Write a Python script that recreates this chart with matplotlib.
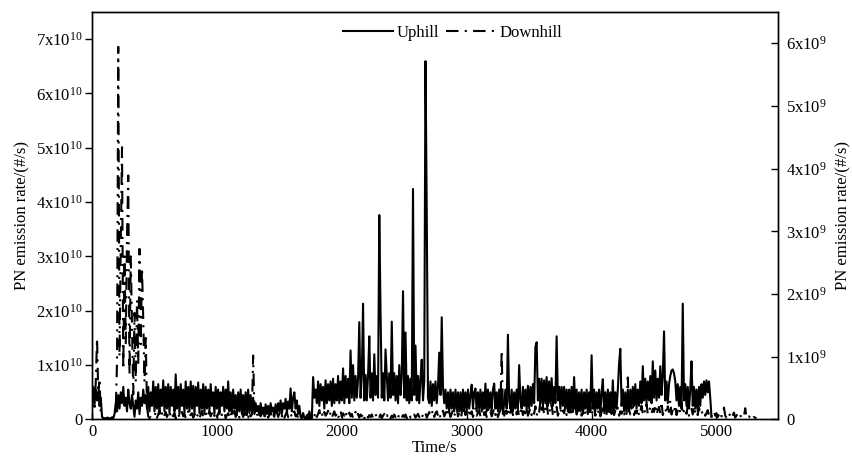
import numpy as np
import matplotlib
matplotlib.use("Agg")
import matplotlib.pyplot as plt
from matplotlib.ticker import FuncFormatter

plt.rcParams['font.family'] = ['Liberation Serif', 'DejaVu Serif']
plt.rcParams['mathtext.fontset'] = 'custom'
plt.rcParams['mathtext.rm'] = 'Liberation Serif'
plt.rcParams['mathtext.it'] = 'Liberation Serif:italic'

# Time step of the sampled series (s)
step_s = 10

# Uphill PN emission rate, units of 1e10 #/s (left axis), t = 0, 10, 20, ...
uphill_1e10 = [
    0.45, 0.6, 0.3, 0.55, 0.35, 0.5, 0.25, 0.4, 0.05, 0.02,
    0.01, 0.02, 0.01, 0.03, 0.01, 0.02, 0.04, 0.02, 0.1, 0.3,
    0.15, 0.45, 0.2, 0.5, 0.3, 0.6, 0.25, 0.4, 0.15, 0.55,
    0.3, 0.2, 0.45, 0.25, 0.05, 0.35, 0.2, 0.5, 0.1, 0.4,
    0.25, 0.55, 0.3, 0.45, 0.2, 0.6, 0.15, 0.5, 0.25, 0.7,
    0.15, 0.6, 0.2, 0.65, 0.1, 0.55, 0.25, 0.72, 0.15, 0.6,
    0.2, 0.65, 0.12, 0.6, 0.25, 0.55, 0.15, 0.83, 0.2, 0.6,
    0.1, 0.65, 0.25, 0.55, 0.12, 0.7, 0.2, 0.6, 0.15, 0.7,
    0.2, 0.62, 0.1, 0.6, 0.25, 0.68, 0.12, 0.55, 0.2, 0.65,
    0.1, 0.6, 0.2, 0.55, 0.15, 0.65, 0.25, 0.5, 0.1, 0.6,
    0.2, 0.55, 0.1, 0.5, 0.25, 0.6, 0.15, 0.55, 0.2, 0.7,
    0.15, 0.5, 0.1, 0.55, 0.2, 0.45, 0.08, 0.5, 0.15, 0.55,
    0.1, 0.45, 0.15, 0.5, 0.08, 0.55, 0.12, 0.45, 0.15, 0.4,
    0.1, 0.3, 0.15, 0.25, 0.08, 0.3, 0.12, 0.22, 0.06, 0.28,
    0.1, 0.25, 0.08, 0.3, 0.15, 0.22, 0.05, 0.28, 0.12, 0.3,
    0.15, 0.35, 0.1, 0.3, 0.2, 0.38, 0.12, 0.33, 0.2, 0.57,
    0.15, 0.4, 0.5, 0.2, 0.35, 0.1, 0.25, 0.05, 0.02, 0.12,
    0.03, 0.01, 0.08, 0.02, 0.15, 0.03, 0.01, 0.78, 0.4, 0.55,
    0.3, 0.7, 0.25, 0.65, 0.35, 0.6, 0.2, 0.72, 0.3, 0.65,
    0.35, 0.7, 0.25, 0.75, 0.3, 0.65, 0.35, 0.8, 0.3, 0.7,
    0.35, 0.94, 0.3, 0.8, 0.4, 0.75, 0.3, 1.27, 0.4, 1.0,
    0.35, 0.8, 0.4, 0.75, 1.79, 0.4, 0.8, 2.13, 0.35, 0.82,
    0.35, 0.8, 1.53, 0.4, 0.85, 0.35, 1.2, 0.45, 0.8, 0.4,
    3.76, 2.0, 0.4, 0.85, 0.35, 1.29, 0.8, 0.35, 0.85, 0.4,
    1.8, 0.45, 0.85, 0.35, 0.8, 0.3, 1.0, 0.45, 0.8, 2.36,
    0.4, 1.6, 0.35, 0.8, 0.3, 0.75, 0.35, 4.24, 0.45, 1.36,
    0.35, 0.8, 0.3, 0.75, 1.1, 0.35, 0.7, 6.59, 3.83, 0.4,
    0.3, 0.7, 0.25, 0.65, 0.35, 0.7, 0.3, 0.6, 1.23, 0.45,
    1.88, 0.6, 0.3, 0.55, 0.2, 0.5, 0.15, 0.55, 0.2, 0.5,
    0.15, 0.55, 0.2, 0.5, 0.15, 0.5, 0.1, 0.55, 0.2, 0.5,
    0.15, 0.55, 0.2, 0.45, 0.64, 0.2, 0.5, 0.57, 0.15, 0.5,
    0.2, 0.55, 0.15, 0.5, 0.2, 0.66, 0.15, 0.55, 0.2, 0.5,
    0.15, 0.55, 0.66, 0.2, 0.5, 0.15, 0.55, 0.2, 0.5, 0.1,
    0.3, 0.55, 0.2, 1.56, 0.35, 0.2, 0.55, 0.15, 0.5, 0.2,
    0.55, 0.2, 1.0, 0.35, 0.2, 0.6, 0.25, 0.55, 0.15, 0.62,
    0.2, 0.6, 0.25, 0.65, 0.3, 1.33, 1.42, 0.35, 0.75, 0.3,
    0.75, 0.25, 0.72, 0.3, 0.78, 0.25, 0.7, 0.3, 0.76, 0.25,
    0.6, 0.3, 1.53, 0.35, 0.6, 0.2, 0.6, 0.25, 0.6, 0.2,
    0.55, 0.15, 0.55, 0.2, 0.6, 0.15, 0.78, 0.2, 0.55, 0.15,
    0.5, 0.15, 0.55, 0.1, 0.5, 0.2, 0.55, 0.1, 0.5, 0.15,
    1.18, 0.2, 0.55, 0.15, 0.5, 0.2, 0.55, 0.1, 0.5, 0.74,
    0.15, 0.5, 0.1, 0.55, 0.15, 0.5, 0.1, 0.72, 0.15, 0.5,
    0.2, 0.55, 1.03, 1.3, 0.25, 0.55, 0.15, 0.5, 0.1, 0.55,
    0.15, 0.55, 0.2, 0.6, 0.25, 0.65, 0.2, 0.55, 0.25, 0.7,
    0.3, 0.98, 0.35, 0.75, 0.3, 0.7, 0.35, 0.8, 0.3, 1.07,
    0.4, 0.9, 0.35, 0.75, 0.4, 0.98, 0.45, 0.8, 1.62, 0.35,
    0.7, 0.3, 0.65, 0.8, 0.9, 0.92, 0.85, 0.7, 0.35, 0.65,
    0.25, 0.6, 0.2, 2.13, 0.35, 0.65, 0.25, 0.6, 0.2, 0.55,
    1.07, 0.25, 0.6, 0.2, 0.55, 0.15, 0.6, 0.25, 0.65, 0.4,
    0.7, 0.45, 0.72, 0.5, 0.7, 0.4, 0.05,
]

# Downhill PN emission rate, units of 1e9 #/s (right axis), t = 0, 10, 20, ...
downhill_1e9 = [
    0.3, 0.55, 0.2, 0.6, 1.29, 0.4, 0.65, 0.1, 0.05, 0.02,
    0.02, 0.01, 0.03, 0.02, 0.01, 0.02, 0.03, 0.02, 0.05, 0.15,
    0.9, 5.94, 1.0, 2.8, 4.34, 0.8, 2.6, 1.2, 2.9, 3.89,
    0.7, 2.6, 1.5, 0.4, 1.7, 0.6, 1.9, 0.9, 2.72, 1.2,
    2.42, 1.6, 0.6, 1.3, 0.2, 0.05, 0.02, 0.04, 0.02, 0.03,
    0.05, 0.12, 0.03, 0.08, 0.15, 0.04, 0.1, 0.02, 0.07, 0.12,
    0.04, 0.09, 0.14, 0.03, 0.08, 0.05, 0.11, 0.02, 0.06, 0.1,
    0.03, 0.08, 0.12, 0.05, 0.09, 0.02, 0.07, 0.13, 0.04, 0.08,
    0.1, 0.03, 0.07, 0.12, 0.05, 0.09, 0.02, 0.08, 0.14, 0.04,
    0.06, 0.11, 0.03, 0.08, 0.13, 0.05, 0.1, 0.02, 0.07, 0.12,
    0.04, 0.09, 0.15, 0.03, 0.08, 0.06, 0.11, 0.02, 0.07, 0.1,
    0.05, 0.12, 0.03, 0.09, 0.14, 0.04, 0.08, 0.11, 0.03, 0.07,
    0.1, 0.04, 0.13, 0.06, 0.09, 0.03, 0.12, 0.05, 0.08, 1.02,
    0.15, 0.06, 0.1, 0.03, 0.12, 0.05, 0.09, 0.14, 0.04, 0.08,
    0.11, 0.03, 0.07, 0.13, 0.05, 0.1, 0.02, 0.08, 0.12, 0.04,
    0.09, 0.14, 0.05, 0.1, 0.03, 0.08, 0.12, 0.04, 0.07, 0.11,
    0.03, 0.09, 0.13, 0.05, 0.08, 0.02, 0.04, 0.02, 0.06, 0.03,
    0.02, 0.05, 0.03, 0.08, 0.02, 0.04, 0.03, 0.1, 0.05, 0.12,
    0.04, 0.09, 0.15, 0.05, 0.1, 0.03, 0.12, 0.06, 0.09, 0.14,
    0.05, 0.11, 0.03, 0.08, 0.13, 0.06, 0.1, 0.02, 0.09, 0.14,
    0.04, 0.1, 0.06, 0.13, 0.03, 0.08, 0.11, 0.05, 0.09, 0.02,
    0.07, 0.12, 0.04, 0.09, 0.03, 0.08, 0.05, 0.1, 0.02, 0.06,
    0.09, 0.03, 0.07, 0.04, 0.08, 0.02, 0.06, 0.09, 0.03, 0.07,
    0.04, 0.08, 0.02, 0.06, 0.09, 0.03, 0.07, 0.04, 0.08, 0.02,
    0.06, 0.03, 0.08, 0.04, 0.07, 0.02, 0.09, 0.05, 0.03, 0.07,
    0.04, 0.08, 0.02, 0.06, 0.09, 0.03, 0.07, 0.05, 0.08, 0.03,
    0.06, 0.09, 0.04, 0.07, 0.02, 0.08, 0.05, 0.1, 0.03, 0.07,
    0.12, 0.05, 0.09, 0.15, 0.04, 0.1, 0.13, 0.06, 0.11, 0.03,
    0.08, 0.14, 0.05, 0.1, 0.18, 0.06, 0.12, 0.04, 0.09, 0.15,
    0.06, 0.11, 0.19, 0.05, 0.1, 0.14, 0.04, 0.09, 0.16, 0.07,
    0.12, 0.05, 0.17, 0.09, 0.13, 0.04, 0.1, 0.18, 0.06, 0.11,
    0.15, 0.05, 0.1, 0.2, 0.07, 0.12, 0.04, 0.16, 0.09, 0.13,
    0.05, 0.11, 0.18, 0.07, 0.13, 0.04, 0.1, 0.16, 1.1, 0.12,
    0.06, 0.14, 0.09, 0.19, 0.05, 0.12, 0.17, 0.07, 0.11, 0.22,
    0.08, 0.15, 0.05, 0.12, 0.2, 0.07, 0.13, 0.1, 0.25, 0.06,
    0.12, 0.18, 0.07, 0.14, 0.09, 0.21, 0.06, 0.15, 0.11, 0.3,
    0.1, 0.22, 0.08, 0.16, 0.28, 0.09, 0.18, 0.12, 0.24, 0.07,
    0.15, 0.1, 0.2, 0.06, 0.13, 0.18, 0.08, 0.14, 0.1, 0.22,
    0.07, 0.15, 0.11, 0.19, 0.06, 0.13, 0.09, 0.2, 0.08, 0.14,
    0.1, 0.18, 0.06, 0.12, 0.22, 0.08, 0.15, 0.11, 0.19, 0.07,
    0.13, 0.09, 0.2, 0.06, 0.14, 0.1, 0.17, 0.05, 0.12, 0.18,
    0.08, 0.15, 0.1, 0.21, 0.06, 0.13, 0.09, 0.17, 0.07, 0.14,
    0.1, 0.19, 0.06, 0.13, 0.09, 0.16, 0.08, 0.12, 0.2, 0.67,
    0.15, 0.08, 0.12, 0.2, 0.07, 0.14, 0.1, 0.18, 0.06, 0.13,
    0.22, 0.09, 0.16, 0.11, 0.25, 0.08, 0.14, 0.19, 0.1, 0.17,
    0.12, 0.24, 0.08, 0.15, 0.2, 0.1, 0.28, 0.07, 0.14, 0.18,
    0.09, 0.21, 0.12, 0.3, 0.08, 0.16, 0.11, 0.23, 0.07, 0.15,
    0.2, 0.1, 0.26, 0.08, 0.14, 0.18, 0.09, 0.22, 0.06, 0.13,
    0.17, 0.08, 0.21, 0.11, 0.15, 0.07, 0.19, 0.1, 0.14, 0.08,
    0.12, 0.06, 0.1, 0.15, 0.07, 0.11, 0.05, 0.09, 0.13, 0.06,
    0.1, 0.04, 0.08, 0.12, 0.05, 0.09, 0.19, 0.06, 0.03, 0.08,
    0.05, 0.1, 0.04, 0.07, 0.11, 0.03, 0.06, 0.09, 0.04, 0.07,
    0.03, 0.06, 0.05, 0.18, 0.04, 0.02, 0.05, 0.03, 0.06, 0.02,
    0.04, 0.03, 0.02,
]

series_labels = ["Uphill", "Downhill"]
x_label = "Time/s"
y_label = "PN emission rate/(#/s)"
left_ticks = [0, 1, 2, 3, 4, 5, 6, 7]      # x1e10
right_ticks = [0, 1, 2, 3, 4, 5, 6]        # x1e9
x_ticks = [0, 1000, 2000, 3000, 4000, 5000]

t_up = np.arange(len(uphill_1e10)) * step_s
t_dn = np.arange(len(downhill_1e9)) * step_s
up = np.array(uphill_1e10) * 1e10
dn = np.array(downhill_1e9) * 1e9

fig = plt.figure(figsize=(8.53, 4.66), dpi=100)
ax = fig.add_axes([0.1079, 0.0998, 0.9117 - 0.1079, 0.9749 - 0.0998])
ax2 = ax.twinx()

l1, = ax.plot(t_up, up, color='black', lw=1.5)
l2, = ax2.plot(t_dn, dn, color='black', lw=1.5, linestyle=(0, (6, 3, 1, 3)))

ax.set_xlim(0, 5490)
ax.set_ylim(0, 7.5e10)
ax2.set_ylim(0, 6.5e9)

ax.set_xticks(x_ticks)
ax.set_yticks([v * 1e10 for v in left_ticks])
ax2.set_yticks([v * 1e9 for v in right_ticks])


def fmt_left(v, pos):
    n = int(round(v / 1e10))
    return "0" if n == 0 else r"%dx10$^{10}$" % n


def fmt_right(v, pos):
    n = int(round(v / 1e9))
    return "0" if n == 0 else r"%dx10$^{9}$" % n


ax.yaxis.set_major_formatter(FuncFormatter(fmt_left))
ax2.yaxis.set_major_formatter(FuncFormatter(fmt_right))

ax.tick_params(axis='y', direction='out', length=5, width=1, labelsize=12, pad=2)
ax.tick_params(axis='x', direction='in', length=4, width=1, labelsize=12, pad=3)
ax2.tick_params(axis='y', direction='in', length=5, width=1, labelsize=12, pad=6)

for a in (ax, ax2):
    for s in a.spines.values():
        s.set_linewidth(1.0)

ax.set_xlabel(x_label, fontsize=12, labelpad=0)
ax.set_ylabel(y_label, fontsize=12, labelpad=4)
ax2.set_ylabel(y_label, fontsize=12, labelpad=6, rotation=90)

leg = ax2.legend([l1, l2], series_labels, loc='upper center',
                 bbox_to_anchor=(0.526, 1.0), ncol=2, frameon=False,
                 fontsize=12, handlelength=3.0, handletextpad=0.2,
                 columnspacing=0.4, borderaxespad=0.4)

fig.savefig("out.png", dpi=100)
